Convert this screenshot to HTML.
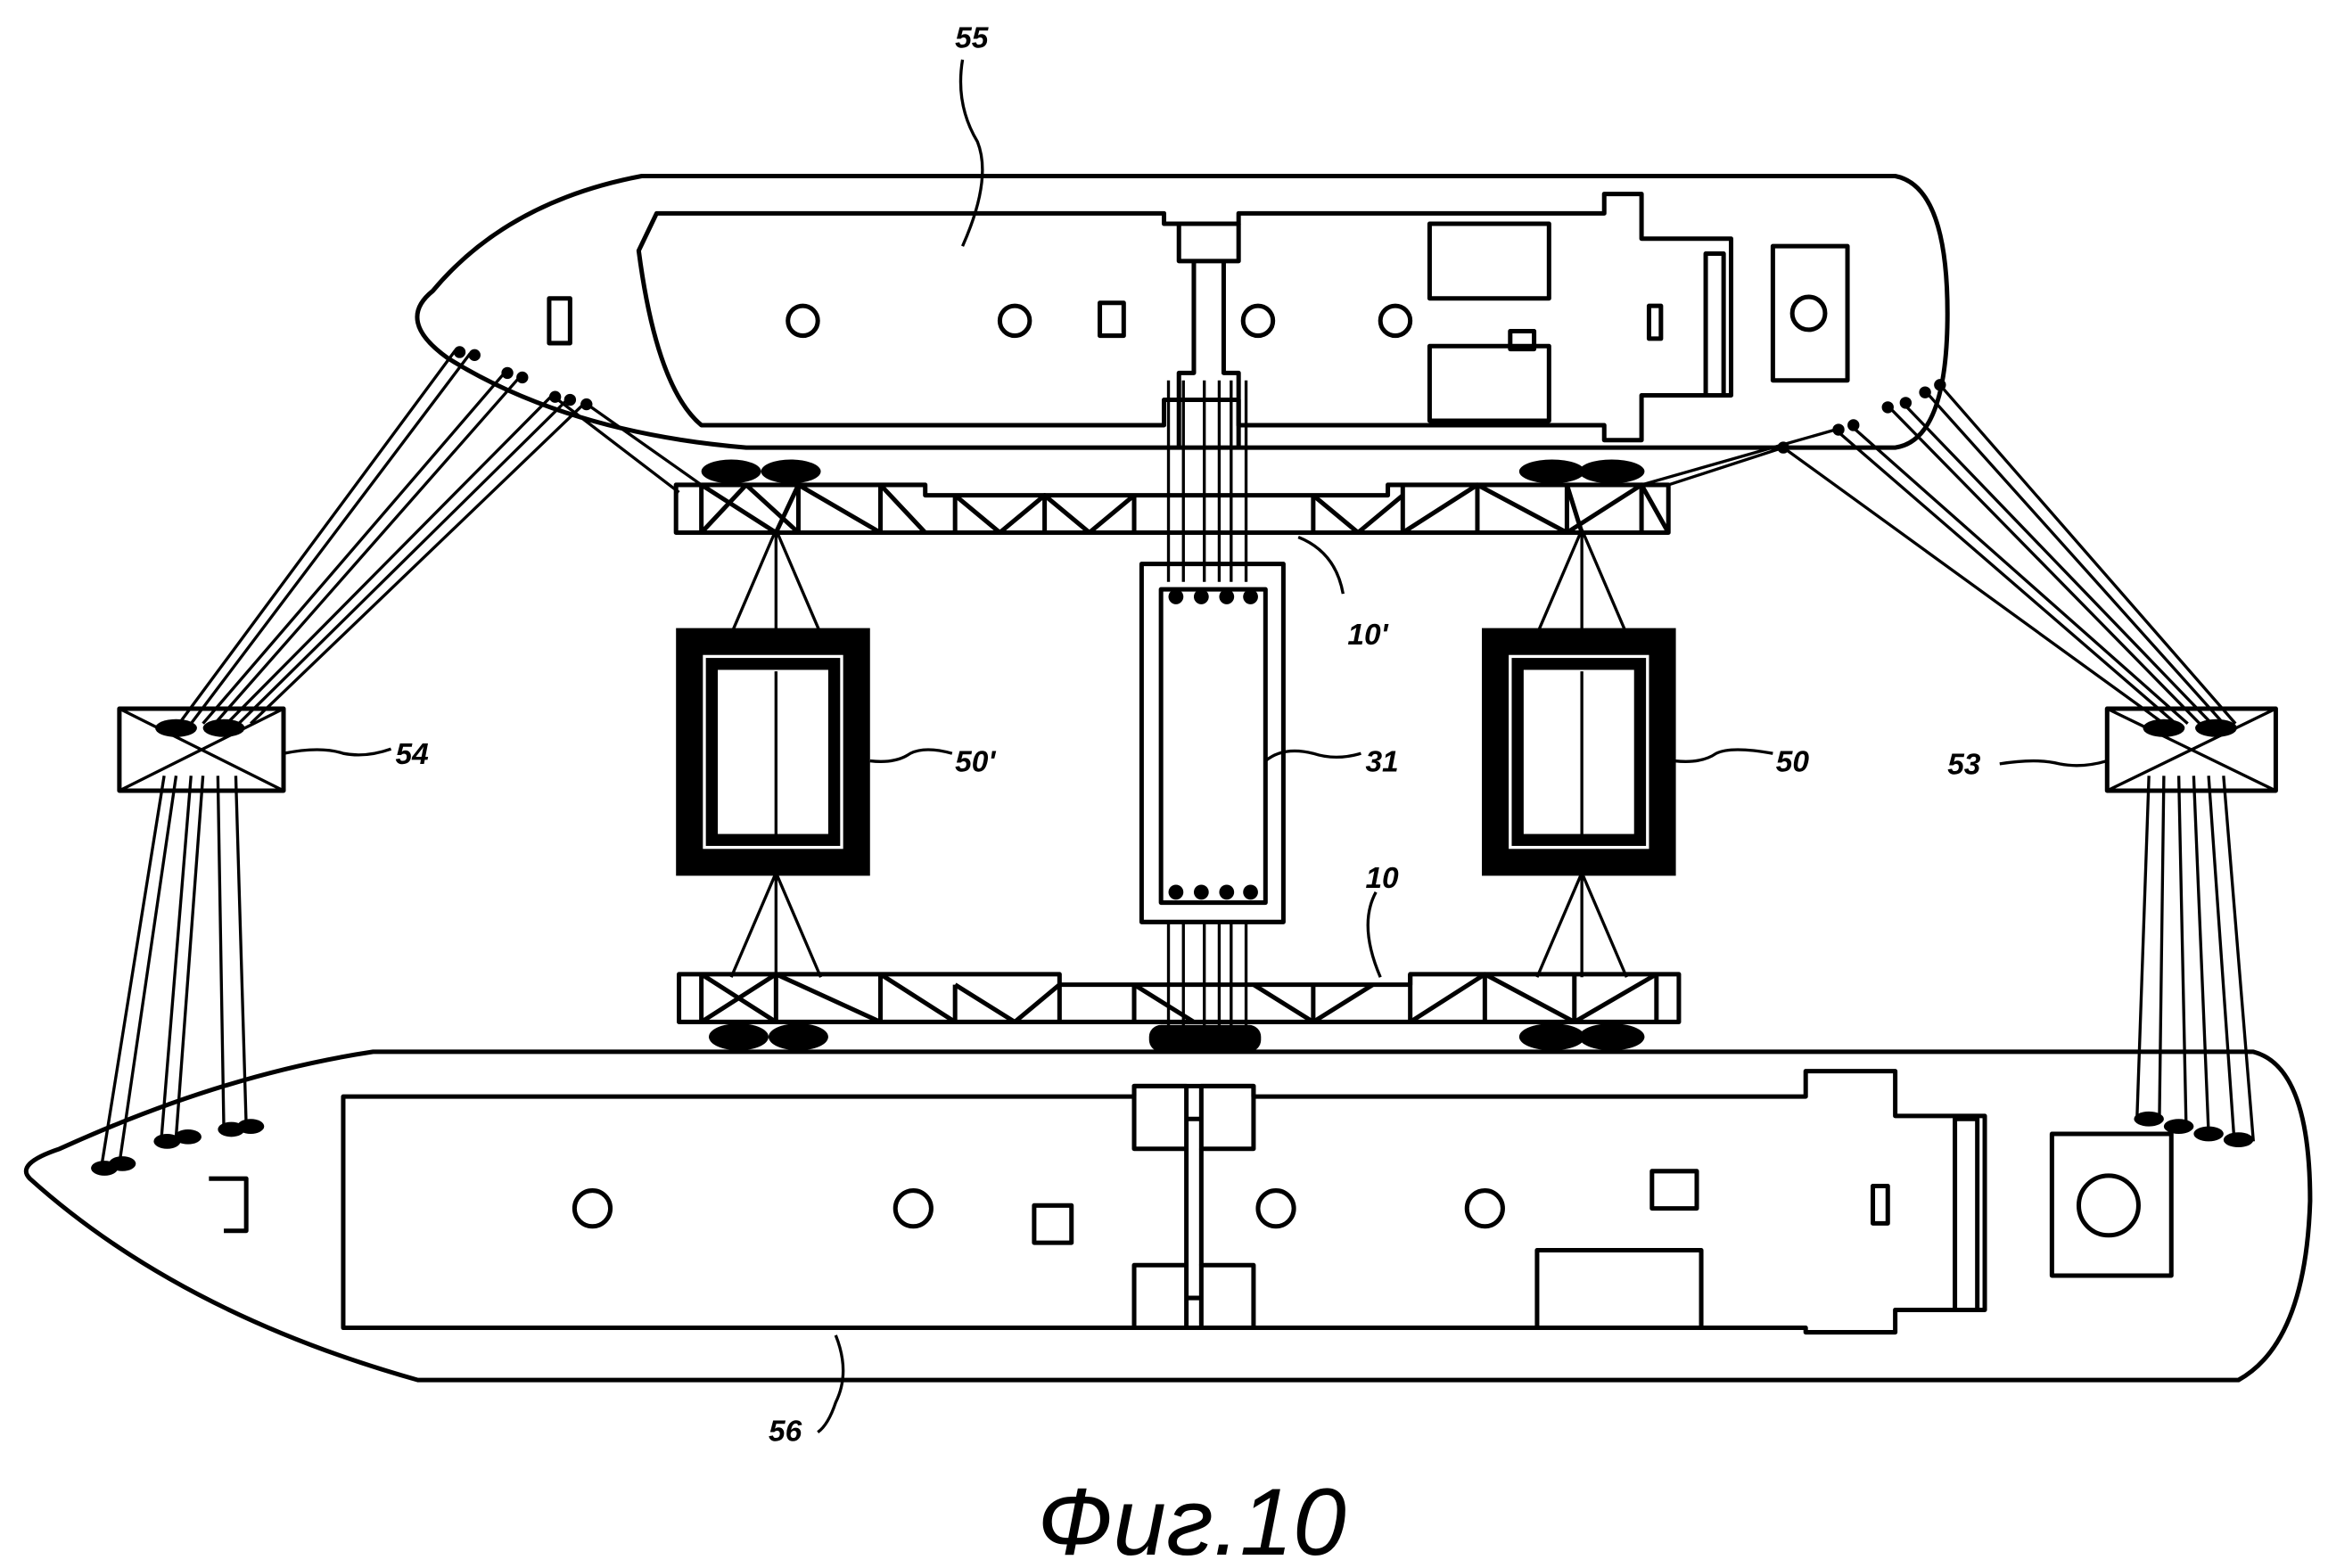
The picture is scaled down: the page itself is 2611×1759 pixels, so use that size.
<!DOCTYPE html>
<html><head><meta charset="utf-8"><style>html,body{margin:0;padding:0;background:#fff}svg{display:block}</style></head><body>
<svg width="2611" height="1759" viewBox="0 0 1560 1051" preserveAspectRatio="none" xmlns="http://www.w3.org/2000/svg">
<g fill="none" stroke="#000" stroke-width="3" stroke-linejoin="round">
<path d="M430,118 L1270,118 Q1305,125 1305,210 Q1305,295 1270,300 L500,300 Q380,290 300,240 Q265,215 290,195 Q340,135 430,118 Z"/>
<path d="M428,168 L440,143 L780,143 L780,150 L830,150 L830,143 L1075,143 L1075,130 L1100,130 L1100,160 L1160,160 L1160,265 L1100,265 L1100,295 L1075,295 L1075,285 L830,285 L830,268 L780,268 L780,285 L470,285 Q440,260 428,168 Z"/>
<circle cx="538" cy="215" r="10"/><circle cx="680" cy="215" r="10"/><circle cx="843" cy="215" r="10"/><circle cx="935" cy="215" r="10"/>
<rect x="368" y="200" width="14" height="30"/><rect x="737" y="203" width="16" height="22"/>
<path d="M790,150 V175 H800 V250 H790 V300 M830,150 V175 H820 V250 H830 V300 M800,175 H820"/>
<rect x="958" y="150" width="80" height="50"/><rect x="958" y="232" width="80" height="50"/>
<rect x="1012" y="222" width="16" height="12"/>
<rect x="1143" y="170" width="12" height="95"/><rect x="1105" y="205" width="8" height="22"/>
<rect x="1188" y="165" width="50" height="90"/><circle cx="1212" cy="210" r="11"/>
<path d="M783,255 V390 M793,255 V390 M807,255 V390 M817,255 V390 M825,255 V390 M835,255 V390" stroke-width="2"/>
<path d="M453,325 H620 V332 H930 V325 H1118 V357 H453 Z"/>
<path d="M470,325 V357 M535,325 V357 M590,325 V357 M640,332 V357 M700,332 V357 M760,332 V357 M880,332 V357 M940,325 V357 M990,325 V357 M1050,325 V357 M1100,325 V357"/>
<path d="M470,357 L500,325 M500,325 L535,357 M535,325 L520,357 L470,325 M535,325 L590,357 M590,325 L620,357 M640,332 L670,357 L700,332 L730,357 L760,332 M880,332 L910,357 L940,332 M940,357 L990,325 L1050,357 L1100,325 L1118,357 M1050,325 L1060,357"/>
<path d="M455,653 H710 V660 H945 V653 H1125 V685 H455 Z"/>
<path d="M470,653 V685 M520,653 V685 M590,653 V685 M640,660 V685 M710,660 V685 M760,660 V685 M880,660 V685 M945,653 V685 M995,653 V685 M1055,653 V685 M1110,653 V685"/>
<path d="M470,685 L520,653 L590,685 M590,653 L640,685 M640,660 L680,685 L710,660 M760,660 L800,685 M840,660 L880,685 L920,660 M945,685 L995,653 L1055,685 L1110,653 M470,653 L520,685"/>
<path d="M520,355 L490,425 M520,355 L550,425 M520,355 V425 M520,585 L490,655 M520,585 L550,655 M520,585 V655" stroke-width="2"/>
<path d="M1060,355 L1030,425 M1060,355 L1090,425 M1060,355 V425 M1060,585 L1030,655 M1060,585 L1090,655 M1060,585 V655" stroke-width="2"/>
<rect x="765" y="378" width="95" height="240"/><rect x="778" y="395" width="70" height="210"/>
<path d="M783,618 V705 M793,618 V705 M807,618 V705 M817,618 V705 M825,618 V705 M835,618 V705" stroke-width="2"/>
<rect x="80" y="475" width="110" height="55"/><path d="M80,475 L190,530 M190,475 L80,530" stroke-width="2"/>
<rect x="1412" y="475" width="113" height="55"/><path d="M1412,475 L1525,530 M1525,475 L1412,530" stroke-width="2"/>
<path d="M250,705 L1510,705 Q1548,715 1548,805 Q1545,900 1500,925 L280,925 Q120,880 20,790 Q10,780 40,770 Q150,720 250,705 Z"/>
<path d="M230,735 H760 V728 H840 V735 H1210 V718 H1270 V748 H1330 V878 H1270 V893 H1210 V890 H840 V890 H760 V890 H230 Z"/>
<circle cx="397" cy="810" r="12"/><circle cx="612" cy="810" r="12"/><circle cx="855" cy="810" r="12"/><circle cx="995" cy="810" r="12"/>
<rect x="693" y="808" width="25" height="25"/><rect x="1107" y="785" width="30" height="25"/><rect x="1030" y="838" width="110" height="52"/>
<rect x="760" y="728" width="35" height="42"/><rect x="805" y="728" width="35" height="42"/><rect x="760" y="848" width="35" height="42"/><rect x="805" y="848" width="35" height="42"/>
<path d="M795,750 H805 M795,870 H805 M795,770 V848 M805,770 V848"/>
<rect x="1310" y="750" width="15" height="128"/><rect x="1255" y="795" width="10" height="25"/>
<rect x="1375" y="760" width="80" height="95"/><circle cx="1413" cy="808" r="20"/>
<path d="M140,790 H165 V825 H150"/>
<path d="M645,40 Q640,70 655,95 Q665,120 645,165" stroke-width="2"/>
<path d="M900,398 Q895,370 870,360" stroke-width="2"/>
<path d="M190,505 Q215,500 230,505 Q245,508 262,502" stroke-width="2"/>
<path d="M583,510 Q600,512 610,505 Q620,500 638,505" stroke-width="2"/>
<path d="M848,510 Q860,500 880,505 Q895,510 912,505" stroke-width="2"/>
<path d="M1122,510 Q1140,512 1150,505 Q1160,500 1188,505" stroke-width="2"/>
<path d="M1340,512 Q1365,508 1380,512 Q1395,515 1412,510" stroke-width="2"/>
<path d="M922,598 Q910,620 925,655" stroke-width="2"/>
<path d="M560,895 Q570,920 560,940 Q555,955 548,960" stroke-width="2"/>
</g>
<g stroke="#000" stroke-width="2" fill="none">
<path d="M120,485 L305,235 M128,485 L315,237 M136,485 L338,250 M144,485 L348,253 M152,485 L370,265 M160,485 L380,268 M168,485 L392,270"/>
<path d="M110,520 L68,782 M118,520 L80,780 M128,520 L108,765 M136,520 L118,762 M146,520 L150,757 M158,520 L165,755"/>
<path d="M1450,485 L1195,300 M1458,485 L1230,288 M1466,485 L1240,285 M1474,485 L1265,272 M1482,485 L1275,270 M1490,485 L1290,262 M1498,485 L1300,258"/>
<path d="M1440,520 L1432,750 M1450,520 L1447,752 M1460,520 L1465,758 M1470,520 L1480,760 M1480,520 L1497,762 M1490,520 L1510,765"/>
<path d="M470,325 L392,270 M455,330 L370,265 M1118,325 L1195,300 M1100,325 L1230,288"/>
</g>
<g fill="none" stroke="#000">
<rect x="462" y="430" width="112" height="148" stroke-width="18"/>
<rect x="477" y="445" width="82" height="118" stroke-width="8"/>
<path d="M520,450 V560" stroke-width="2"/>
<rect x="1002" y="430" width="112" height="148" stroke-width="18"/>
<rect x="1017" y="445" width="82" height="118" stroke-width="8"/>
<path d="M1060,450 V560" stroke-width="2"/>
</g>
<g fill="#000">
<ellipse cx="490" cy="316" rx="20" ry="8"/><ellipse cx="530" cy="316" rx="20" ry="8"/>
<ellipse cx="1040" cy="316" rx="22" ry="8"/><ellipse cx="1080" cy="316" rx="22" ry="8"/>
<ellipse cx="495" cy="695" rx="20" ry="9"/><ellipse cx="535" cy="695" rx="20" ry="9"/>
<rect x="770" y="687" width="75" height="18" rx="8"/>
<ellipse cx="1040" cy="695" rx="22" ry="9"/><ellipse cx="1080" cy="695" rx="22" ry="9"/>
<circle cx="788" cy="400" r="5"/><circle cx="805" cy="400" r="5"/><circle cx="822" cy="400" r="5"/><circle cx="838" cy="400" r="5"/>
<circle cx="788" cy="598" r="5"/><circle cx="805" cy="598" r="5"/><circle cx="822" cy="598" r="5"/><circle cx="838" cy="598" r="5"/>
<ellipse cx="70" cy="783" rx="9" ry="5"/><ellipse cx="82" cy="780" rx="9" ry="5"/><ellipse cx="112" cy="765" rx="9" ry="5"/><ellipse cx="126" cy="762" rx="9" ry="5"/><ellipse cx="155" cy="757" rx="9" ry="5"/><ellipse cx="168" cy="755" rx="9" ry="5"/>
<ellipse cx="1440" cy="750" rx="10" ry="5"/><ellipse cx="1460" cy="755" rx="10" ry="5"/><ellipse cx="1480" cy="760" rx="10" ry="5"/><ellipse cx="1500" cy="764" rx="10" ry="5"/>
<ellipse cx="118" cy="488" rx="14" ry="6"/><ellipse cx="150" cy="488" rx="14" ry="6"/>
<ellipse cx="1450" cy="488" rx="14" ry="6"/><ellipse cx="1485" cy="488" rx="14" ry="6"/>
<circle cx="308" cy="236" r="4"/><circle cx="318" cy="238" r="4"/><circle cx="340" cy="250" r="4"/><circle cx="350" cy="253" r="4"/><circle cx="372" cy="266" r="4"/><circle cx="382" cy="268" r="4"/><circle cx="393" cy="271" r="4"/>
<circle cx="1195" cy="300" r="4"/><circle cx="1232" cy="288" r="4"/><circle cx="1242" cy="285" r="4"/><circle cx="1265" cy="273" r="4"/><circle cx="1277" cy="270" r="4"/><circle cx="1290" cy="263" r="4"/><circle cx="1300" cy="258" r="4"/>
</g>
<g font-family="Liberation Sans, sans-serif" font-style="italic" font-weight="bold" font-size="20" fill="#000">
<text x="640" y="32">55</text>
<text x="903" y="432">10'</text>
<text x="265" y="512">54</text>
<text x="640" y="517">50'</text>
<text x="915" y="517">31</text>
<text x="1190" y="517">50</text>
<text x="1305" y="519">53</text>
<text x="915" y="595">10</text>
<text x="515" y="966">56</text>
</g>
<text x="695" y="1042" font-family="Liberation Sans, sans-serif" font-style="italic" font-size="64" fill="#000">Фиг.10</text>
</svg>
</body></html>
